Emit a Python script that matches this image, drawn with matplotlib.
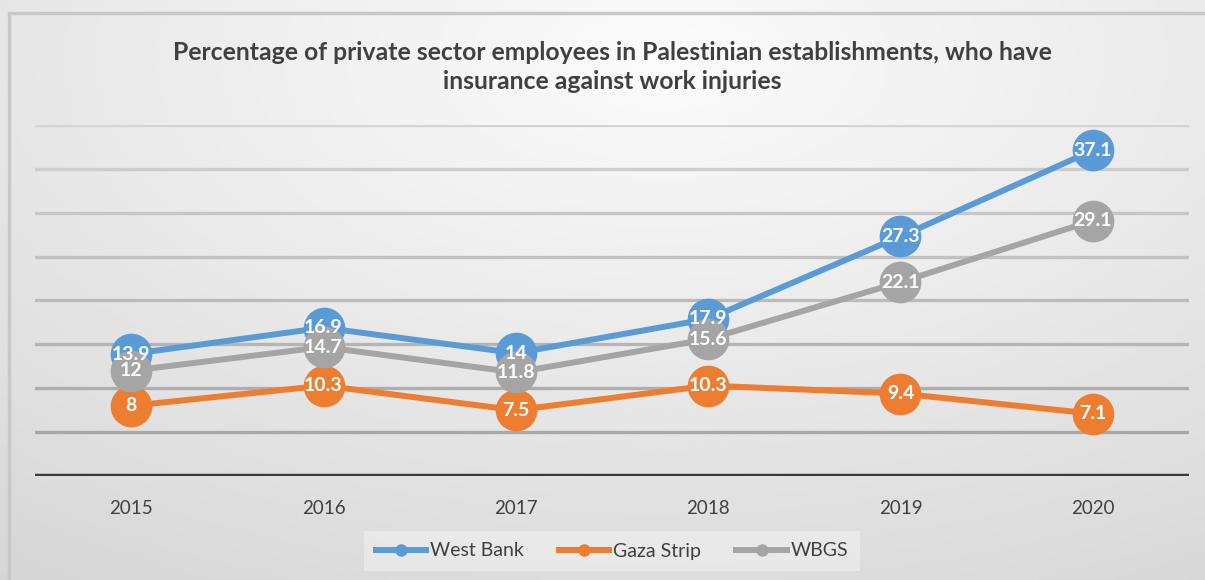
import matplotlib.pyplot as plt
import numpy as np
from matplotlib.patches import Rectangle

years = ['2015', '2016', '2017', '2018', '2019', '2020']
west_bank = [13.9, 16.9, 14, 17.9, 27.3, 37.1]
gaza_strip = [8, 10.3, 7.5, 10.3, 9.4, 7.1]
wbgs = [12, 14.7, 11.8, 15.6, 22.1, 29.1]

series = [
    ('West Bank', west_bank, '#5b9bd5'),
    ('Gaza Strip', gaza_strip, '#ed7d31'),
    ('WBGS', wbgs, '#a5a5a5'),
]

plt.rcParams['font.family'] = ['Lato', 'DejaVu Sans']

fig = plt.figure(figsize=(12.05, 5.8), dpi=100)

# gradient background
bg = fig.add_axes([0, 0, 1, 1], zorder=-10)
yy, xx = np.mgrid[0:1:200j, 0:1:400j]
d = np.sqrt((xx - 0.55) ** 2 + (yy - 0.1) ** 2 * 0.8)
grad = 0.985 - 0.15 * np.clip(d, 0, 1)
bg.imshow(grad, cmap='gray', vmin=0, vmax=1, aspect='auto', extent=[0, 1, 0, 1], origin='upper')
bg.add_patch(Rectangle((9 / 1205, -0.1), 1.2, 1 - 13 / 580 + 0.1, fill=False,
                       edgecolor='#c8c8c8', linewidth=2.5, transform=bg.transAxes))
bg.set_xlim(0, 1)
bg.set_ylim(0, 1)
bg.axis('off')

ax = fig.add_axes([35 / 1205, 1 - 476 / 580, (1189 - 35) / 1205, (476 - 125) / 580])
ax.patch.set_alpha(0)
x = np.arange(len(years))

# gridlines get darker toward the bottom, like the reference
for g in range(5, 41, 5):
    shade = 0.66 + 0.17 * (g - 5) / 35
    ax.axhline(g, color=str(shade), linewidth=2.4, zorder=1)
ax.axhline(0, color='#3a3a3a', linewidth=3.2, zorder=2)

for name, vals, col in series:
    ax.plot(x, vals, color=col, linewidth=4.3, marker='o', markersize=29,
            label=name, zorder=3, solid_capstyle='round')

for name, vals, col in series:
    for xi, v in zip(x, vals):
        ax.text(xi, v, f'{v:g}', color='white', fontsize=14, fontweight='bold',
                ha='center', va='center', zorder=5)

ax.set_xlim(-0.5, 5.5)
ax.set_ylim(0, 40)
ax.set_xticks(x)
ax.set_xticklabels(years, fontsize=13.5, color='#404040')
ax.tick_params(axis='x', length=0, pad=17)
ax.set_yticks([])
for s in ax.spines.values():
    s.set_visible(False)

fig.text(0.508, 1 - 67 / 580,
         'Percentage of private sector employees in Palestinian establishments, who have\ninsurance against work injuries',
         ha='center', va='center', fontsize=17.8, fontweight='bold', color='#404040',
         linespacing=1.35)

handles = [plt.Line2D([0], [0], color=c, linewidth=4.3, marker='o', markersize=8)
           for _, _, c in series]
leg = fig.legend(handles, [s[0] for s in series], loc='center',
                 bbox_to_anchor=(612 / 1205, 1 - 551 / 580), ncol=3, fontsize=14,
                 frameon=True, handlelength=2.6, columnspacing=1.8, handletextpad=0.2,
                 borderpad=0.6)
leg.get_frame().set_facecolor('#ececec')
leg.get_frame().set_edgecolor('none')
leg.get_frame().set_boxstyle('square', pad=0)
for t in leg.get_texts():
    t.set_color('#404040')

fig.savefig('out.png', dpi=100)
